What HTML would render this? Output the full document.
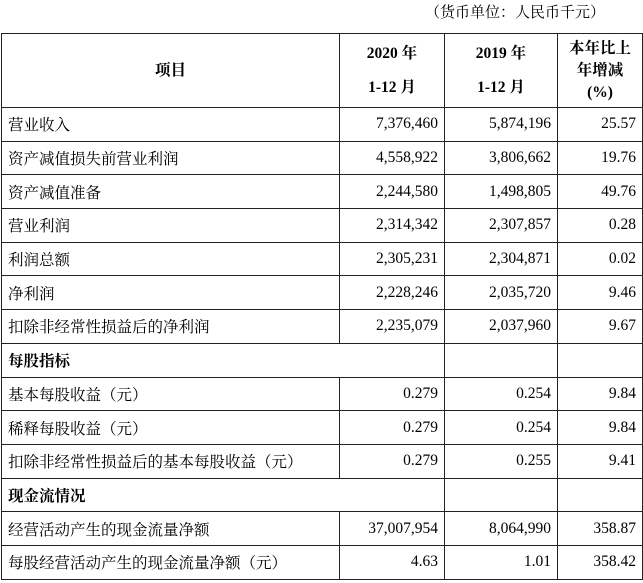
<!DOCTYPE html>
<html><head><meta charset="utf-8"><style>
body{margin:0;width:643px;height:583px;background:#fff;font-family:"Liberation Serif","Noto Serif CJK SC",serif;color:#000;overflow:hidden;position:relative}
.cap{position:absolute;top:1px;right:38px;font-size:15px}
table{position:absolute;left:1px;top:33px;border-collapse:collapse;table-layout:fixed}
td{border:1px solid #222;font-size:15.5px;padding:0 6px;height:33.7px;box-sizing:border-box;white-space:nowrap}
td.n{text-align:right}
th{border:1px solid #222;font-size:15.5px;font-weight:bold;height:71px;text-align:center;line-height:34px}
th.p{line-height:22px}
.b{font-weight:bold}
</style></head><body>
<div class="cap">（货币单位：人民币千元）</div>
<table>
<colgroup><col style="width:338px"><col style="width:105px"><col style="width:113px"><col style="width:85px"></colgroup>
<tr><th>项目</th><th>2020 年<br>1-12 月</th><th>2019 年<br>1-12 月</th><th class="p">本年比上<br>年增减<br>(%)</th></tr>
<tr><td>营业收入</td><td class="n">7,376,460</td><td class="n">5,874,196</td><td class="n">25.57</td></tr>
<tr><td>资产减值损失前营业利润</td><td class="n">4,558,922</td><td class="n">3,806,662</td><td class="n">19.76</td></tr>
<tr><td>资产减值准备</td><td class="n">2,244,580</td><td class="n">1,498,805</td><td class="n">49.76</td></tr>
<tr><td>营业利润</td><td class="n">2,314,342</td><td class="n">2,307,857</td><td class="n">0.28</td></tr>
<tr><td>利润总额</td><td class="n">2,305,231</td><td class="n">2,304,871</td><td class="n">0.02</td></tr>
<tr><td>净利润</td><td class="n">2,228,246</td><td class="n">2,035,720</td><td class="n">9.46</td></tr>
<tr><td>扣除非经常性损益后的净利润</td><td class="n">2,235,079</td><td class="n">2,037,960</td><td class="n">9.67</td></tr>
<tr><td class="b" colspan="2">每股指标</td><td></td><td></td></tr>
<tr><td>基本每股收益（元）</td><td class="n">0.279</td><td class="n">0.254</td><td class="n">9.84</td></tr>
<tr><td>稀释每股收益（元）</td><td class="n">0.279</td><td class="n">0.254</td><td class="n">9.84</td></tr>
<tr><td>扣除非经常性损益后的基本每股收益（元）</td><td class="n">0.279</td><td class="n">0.255</td><td class="n">9.41</td></tr>
<tr><td class="b" colspan="2">现金流情况</td><td></td><td></td></tr>
<tr><td>经营活动产生的现金流量净额</td><td class="n">37,007,954</td><td class="n">8,064,990</td><td class="n">358.87</td></tr>
<tr><td>每股经营活动产生的现金流量净额（元）</td><td class="n">4.63</td><td class="n">1.01</td><td class="n">358.42</td></tr>
</table>
</body></html>
